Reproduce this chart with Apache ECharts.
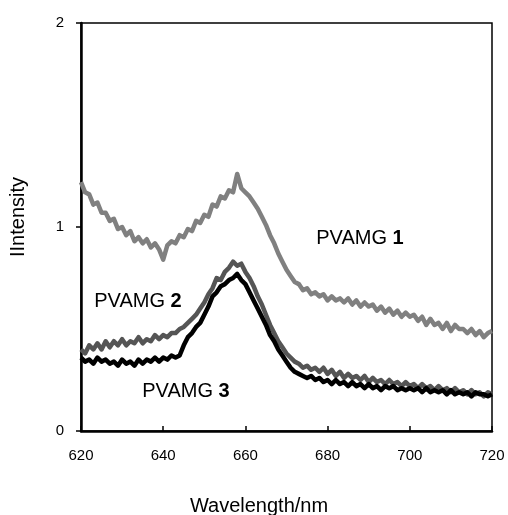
<!DOCTYPE html>
<html>
<head>
<meta charset="utf-8">
<script src="https://cdn.jsdelivr.net/npm/echarts@6/dist/echarts.min.js"></script>
<style>
  html, body { margin: 0; padding: 0; background: #fff; }
  #chartDiv { width: 508px; height: 515px; }
</style>
</head>
<body>
<div id="chartDiv"></div>
<script>
// wavelength (nm), 1 nm steps
var wavelength = [620, 621, 622, 623, 624, 625, 626, 627, 628, 629,
    630, 631, 632, 633, 634, 635, 636, 637, 638, 639,
    640, 641, 642, 643, 644, 645, 646, 647, 648, 649,
    650, 651, 652, 653, 654, 655, 656, 657, 658, 659,
    660, 661, 662, 663, 664, 665, 666, 667, 668, 669,
    670, 671, 672, 673, 674, 675, 676, 677, 678, 679,
    680, 681, 682, 683, 684, 685, 686, 687, 688, 689,
    690, 691, 692, 693, 694, 695, 696, 697, 698, 699,
    700, 701, 702, 703, 704, 705, 706, 707, 708, 709,
    710, 711, 712, 713, 714, 715, 716, 717, 718, 719, 720];

// PVAMG 1
var pvamg1 = [1.22, 1.17, 1.16, 1.11, 1.12, 1.07, 1.07, 1.03, 1.04, 0.99,
    1.00, 0.96, 0.98, 0.93, 0.95, 0.92, 0.94, 0.90, 0.92, 0.89,
    0.84, 0.91, 0.93, 0.92, 0.96, 0.95, 0.99, 0.98, 1.03, 1.02,
    1.06, 1.05, 1.11, 1.10, 1.15, 1.14, 1.18, 1.17, 1.26, 1.19,
    1.17, 1.15, 1.12, 1.09, 1.05, 1.01, 0.96, 0.92, 0.87, 0.83,
    0.79, 0.76, 0.73, 0.72, 0.69, 0.70, 0.67, 0.68, 0.66, 0.67,
    0.64, 0.66, 0.64, 0.65, 0.63, 0.65, 0.62, 0.64, 0.61, 0.63,
    0.61, 0.62, 0.59, 0.61, 0.58, 0.60, 0.57, 0.59, 0.56, 0.58,
    0.56, 0.57, 0.54, 0.56, 0.52, 0.55, 0.52, 0.53, 0.50, 0.53,
    0.49, 0.52, 0.50, 0.50, 0.48, 0.50, 0.47, 0.49, 0.46, 0.48, 0.49];

// PVAMG 2
var pvamg2 = [0.40, 0.38, 0.42, 0.40, 0.43, 0.40, 0.44, 0.41, 0.44, 0.42,
    0.45, 0.42, 0.44, 0.43, 0.46, 0.43, 0.45, 0.44, 0.47, 0.45,
    0.47, 0.46, 0.48, 0.48, 0.50, 0.51, 0.53, 0.55, 0.57, 0.60,
    0.63, 0.67, 0.70, 0.75, 0.74, 0.78, 0.80, 0.83, 0.81, 0.82,
    0.78, 0.75, 0.71, 0.66, 0.62, 0.57, 0.52, 0.48, 0.44, 0.41,
    0.38, 0.36, 0.34, 0.33, 0.31, 0.32, 0.30, 0.31, 0.29, 0.31,
    0.28, 0.30, 0.27, 0.29, 0.26, 0.28, 0.26, 0.27, 0.25, 0.27,
    0.24, 0.26, 0.24, 0.25, 0.23, 0.25, 0.23, 0.24, 0.22, 0.24,
    0.22, 0.23, 0.21, 0.23, 0.21, 0.22, 0.20, 0.22, 0.20, 0.21,
    0.19, 0.21, 0.19, 0.20, 0.18, 0.20, 0.18, 0.19, 0.17, 0.19, 0.18];

// PVAMG 3
var pvamg3 = [0.36, 0.34, 0.35, 0.33, 0.36, 0.34, 0.35, 0.33, 0.34, 0.32,
    0.35, 0.33, 0.34, 0.32, 0.35, 0.33, 0.35, 0.34, 0.36, 0.34,
    0.36, 0.35, 0.37, 0.36, 0.37, 0.42, 0.46, 0.48, 0.51, 0.53,
    0.57, 0.61, 0.66, 0.68, 0.71, 0.72, 0.74, 0.75, 0.77, 0.74,
    0.72, 0.68, 0.64, 0.60, 0.56, 0.52, 0.47, 0.44, 0.40, 0.37,
    0.34, 0.31, 0.29, 0.28, 0.27, 0.26, 0.27, 0.25, 0.26, 0.24,
    0.25, 0.23, 0.25, 0.23, 0.24, 0.22, 0.24, 0.22, 0.23, 0.21,
    0.23, 0.21, 0.22, 0.20, 0.22, 0.21, 0.22, 0.20, 0.21, 0.20,
    0.21, 0.20, 0.21, 0.19, 0.21, 0.19, 0.20, 0.19, 0.20, 0.18,
    0.20, 0.18, 0.19, 0.18, 0.19, 0.17, 0.19, 0.18, 0.18, 0.17, 0.18];

var seriesNames = ['PVAMG 1', 'PVAMG 2', 'PVAMG 3'];
var seriesColors = ['#808080', '#555555', '#000000'];

function pairs(xs, ys) {
    var out = [];
    for (var i = 0; i < xs.length; i++) {
        out.push([xs[i], ys[i]]);
    }
    return out;
}

var font = '"Liberation Sans", Arial, sans-serif';
var chart = echarts.init(document.getElementById('chartDiv'), null, { renderer: 'canvas' });

var lineData = [pvamg1, pvamg2, pvamg3];
var series = [];
for (var s = 0; s < lineData.length; s++) {
    series.push({
        name: seriesNames[s],
        type: 'line',
        data: pairs(wavelength, lineData[s]),
        showSymbol: false,
        symbol: 'none',
        animation: false,
        lineStyle: { color: seriesColors[s], width: 4.5, join: 'round' },
        z: 2 + s
    });
}

var option = {
    animation: false,
    backgroundColor: '#fff',
    grid: {
        left: 81, right: 16, top: 23, bottom: 84,
        show: true, borderColor: '#000', borderWidth: 1.5, backgroundColor: 'transparent'
    },
    xAxis: {
        type: 'value',
        min: 620, max: 720, interval: 20,
        axisLine: { show: true, lineStyle: { color: '#000', width: 2.5 } },
        axisTick: { show: true, inside: true, length: 5, lineStyle: { color: '#000', width: 1.5 } },
        axisLabel: { color: '#000', fontSize: 15, fontFamily: font, margin: 17 },
        splitLine: { show: false }
    },
    yAxis: {
        type: 'value',
        min: 0, max: 2, interval: 1,
        axisLine: { show: true, lineStyle: { color: '#000', width: 2.5 } },
        axisTick: { show: true, inside: false, length: 5, lineStyle: { color: '#000', width: 1.5 } },
        axisLabel: { color: '#000', fontSize: 15, fontFamily: font, margin: 17 },
        splitLine: { show: false }
    },
    graphic: [
        {
            type: 'text', x: 259, y: 506,
            style: { text: 'Wavelength/nm', fontSize: 20, fontFamily: font, fill: '#000',
                     textAlign: 'center', textVerticalAlign: 'middle' }
        },
        {
            type: 'text', x: 18, y: 217, rotation: Math.PI / 2,
            style: { text: 'IIntensity', fontSize: 20, fontFamily: font, fill: '#000',
                     textAlign: 'center', textVerticalAlign: 'middle' }
        },
        {
            type: 'text', x: 360, y: 238,
            style: { text: 'PVAMG {b|1}', fontSize: 20, fontFamily: font, fill: '#000',
                     textAlign: 'center', textVerticalAlign: 'middle',
                     rich: { b: { fontSize: 20, fontFamily: font, fontWeight: 'bold', fill: '#000' } } }
        },
        {
            type: 'text', x: 138, y: 301,
            style: { text: 'PVAMG {b|2}', fontSize: 20, fontFamily: font, fill: '#000',
                     textAlign: 'center', textVerticalAlign: 'middle',
                     rich: { b: { fontSize: 20, fontFamily: font, fontWeight: 'bold', fill: '#000' } } }
        },
        {
            type: 'text', x: 186, y: 391,
            style: { text: 'PVAMG {b|3}', fontSize: 20, fontFamily: font, fill: '#000',
                     textAlign: 'center', textVerticalAlign: 'middle',
                     rich: { b: { fontSize: 20, fontFamily: font, fontWeight: 'bold', fill: '#000' } } }
        }
    ],
    series: series
};

chart.setOption(option);
</script>
</body>
</html>
